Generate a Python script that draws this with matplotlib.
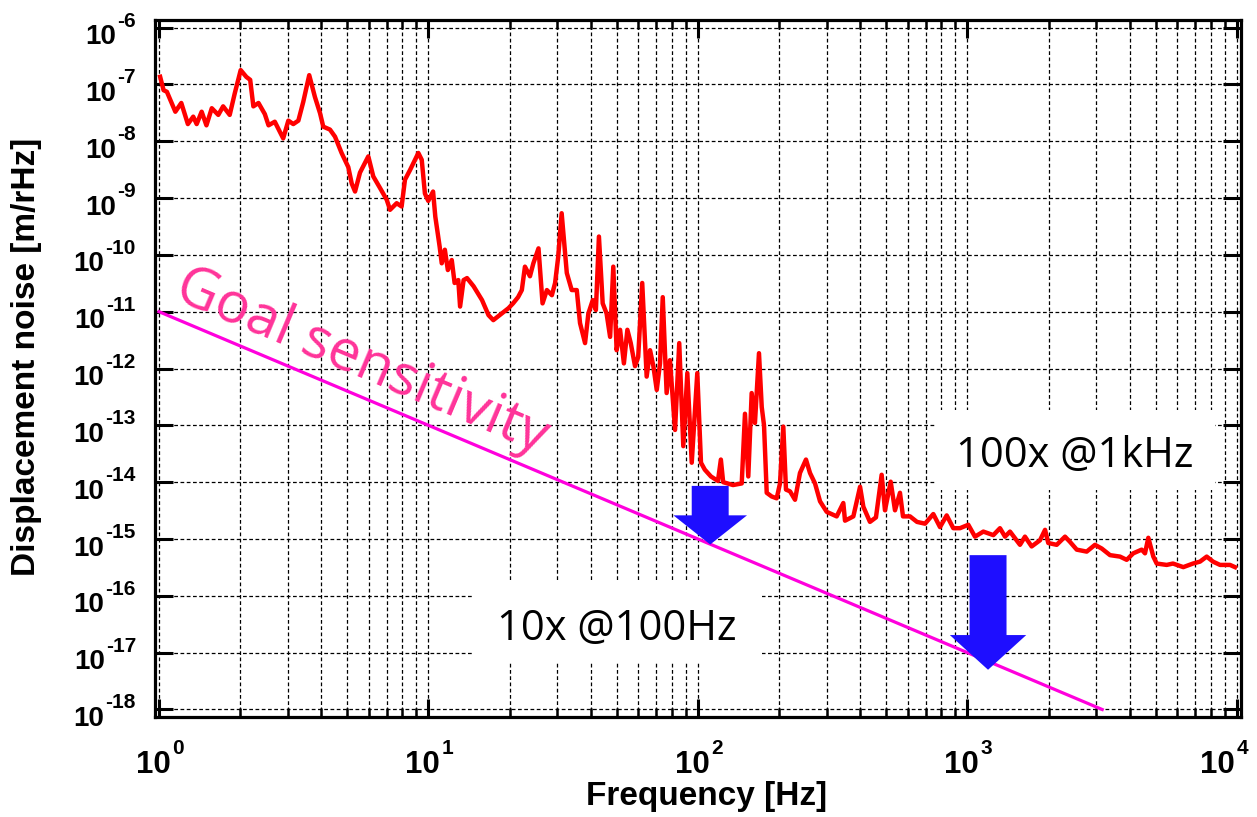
import numpy as np
import matplotlib
matplotlib.use('Agg')
import matplotlib.pyplot as plt
from matplotlib.ticker import FixedLocator, NullFormatter, NullLocator, LogLocator
from matplotlib.patches import Rectangle

# ---------------- data ----------------
freq_d1 = [1.01, 1.04, 1.07, 1.15, 1.21, 1.28, 1.34, 1.38, 1.44, 1.50, 1.57, 1.66, 1.73, 1.83,
           1.91, 2.01, 2.11, 2.18, 2.24, 2.34, 2.47, 2.55, 2.69, 2.89, 3.02, 3.15, 3.29, 3.43,
           3.61, 3.79, 3.96, 4.07, 4.31, 4.50, 4.76, 5.04, 5.19, 5.34, 5.57, 5.98, 6.24, 6.61,
           7.00, 7.20, 7.62, 7.95, 8.18, 8.54, 8.91, 9.17, 9.44, 9.70, 9.98]
noise_d1 = [1.36e-7, 7.9e-8, 7.4e-8, 3.3e-8, 4.7e-8, 2.0e-8, 2.7e-8, 2.0e-8, 3.3e-8, 1.9e-8,
            3.8e-8, 2.9e-8, 4.1e-8, 2.9e-8, 6.9e-8, 1.78e-7, 1.35e-7, 1.2e-7, 4.1e-8, 4.7e-8,
            3.0e-8, 1.9e-8, 2.2e-8, 1.12e-8, 2.3e-8, 2.0e-8, 2.3e-8, 4.9e-8, 1.45e-7, 6.0e-8,
            3.1e-8, 1.8e-8, 1.6e-8, 1.2e-8, 6.2e-9, 3.5e-9, 1.8e-9, 1.3e-9, 2.8e-9, 5.4e-9,
            2.4e-9, 1.5e-9, 9.3e-10, 6.2e-10, 8.1e-10, 7.1e-10, 2.1e-9, 3.1e-9, 4.7e-9, 6.2e-9,
            4.7e-9, 1.2e-9, 8.9e-10]

freq_d2 = [10.4, 10.6, 11.0, 11.2, 11.5, 11.8, 12.2, 12.5, 12.9, 13.1, 13.5, 13.9, 14.7, 15.8,
           16.7, 17.4, 18.7, 19.8, 20.6, 21.5, 22.2, 22.8, 23.8, 24.5, 25.6, 26.5, 27.5, 28.7,
           29.5, 30.3, 31.2, 32.6, 34.0, 35.5, 36.5, 38.1, 39.2, 40.7, 41.8, 42.9, 44.3, 45.8,
           47.2, 48.5, 49.9, 51.4, 53.1, 54.7, 56.3, 58.4, 60.0, 62.1, 64.5, 66.4, 68.3, 70.3,
           72.3, 74.0, 76.5, 78.7, 82.2, 85.2, 88.2, 91.3, 94.8, 99.4]
noise_d2 = [1.3e-9, 4.7e-10, 1.4e-10, 7.1e-11, 1.23e-10, 5.4e-11, 8.1e-11, 3.2e-11, 3.6e-11,
            1.23e-11, 3.6e-11, 3.9e-11, 2.8e-11, 1.6e-11, 8.7e-12, 7.1e-12, 9.3e-12, 1.15e-11,
            1.4e-11, 1.8e-11, 2.4e-11, 6.2e-11, 4.2e-11, 7.1e-11, 1.3e-10, 1.4e-11, 2.4e-11,
            1.95e-11, 3.2e-11, 9.3e-11, 5.4e-10, 4.8e-11, 2.4e-11, 2.4e-11, 6.3e-12, 2.8e-12,
            9.3e-12, 1.6e-11, 1.07e-11, 2.1e-10, 1.4e-11, 9.3e-12, 3.6e-12, 6.2e-11, 2.1e-12,
            4.8e-12, 1.23e-12, 4.8e-12, 2.8e-12, 1.1e-12, 1.6e-12, 3.2e-11, 7.2e-13, 2.1e-12,
            1.1e-12, 4.2e-13, 1.23e-12, 1.8e-11, 3.7e-13, 1.4e-12, 8.3e-14, 2.8e-12, 4.3e-14,
            8.3e-13, 2.2e-14, 8.3e-13]

freq_d3 = [102.6, 106, 111.7, 118.6, 121.6, 124, 134.9, 145.3, 149.4, 153.7, 158.2, 162.7,
           168.4, 172.4, 175.8, 179.9, 187.7, 195.9, 201.5, 207.3, 212.1, 219.5, 229.1, 239.0,
           251.6, 260.4, 271.8, 283.7, 300.4, 327.1, 346.1, 351.2, 377.1, 399.4, 410.8, 434.6,
           457.5, 480.3, 494.1, 518.8, 538.3, 561.7, 576.3, 611.9, 649.6, 695.8, 746.7, 790.7,
           837.2, 885.8, 938]
noise_d3 = [2.2e-14, 1.66e-14, 1.26e-14, 1.05e-14, 2.5e-14, 1.0e-14, 8.9e-15, 9.5e-15, 1.6e-13,
            1.26e-14, 3.7e-13, 1.1e-13, 1.86e-12, 2.1e-13, 1.0e-13, 6.5e-15, 5.6e-15, 5.2e-15,
            9.5e-15, 9.5e-14, 7.4e-15, 6.9e-15, 4.9e-15, 1.45e-14, 2.5e-14, 1.45e-14, 9.5e-15,
            4.6e-15, 3.0e-15, 2.5e-15, 4.3e-15, 2.1e-15, 2.5e-15, 8.3e-15, 3.7e-15, 2.0e-15,
            2.4e-15, 1.35e-14, 3.2e-15, 1.02e-14, 3.2e-15, 6.5e-15, 2.5e-15, 2.5e-15, 2.0e-15,
            1.86e-15, 2.75e-15, 1.62e-15, 2.6e-15, 1.55e-15, 1.55e-15]

freq_d4 = [1007, 1066, 1145, 1247, 1320, 1378, 1438, 1566, 1634, 1730, 1858, 1940, 1994, 2143,
           2301, 2401, 2543, 2769, 2972, 3148, 3380, 3681, 3897, 4123, 4430, 4557, 4688, 4893,
           5035, 5484, 5787, 6321, 6868, 7290, 7720, 8147, 8649, 9419, 9831]
noise_d4 = [1.78e-15, 1.1e-15, 1.35e-15, 1.17e-15, 1.55e-15, 1.1e-15, 1.35e-15, 7.9e-16,
            1.1e-15, 7.4e-16, 9.5e-16, 1.45e-15, 8.5e-16, 7.9e-16, 1.1e-15, 8.9e-16, 6.5e-16,
            6.0e-16, 7.9e-16, 6.8e-16, 5.2e-16, 4.9e-16, 4.3e-16, 5.6e-16, 6.5e-16, 5.6e-16,
            1.05e-15, 4.9e-16, 3.7e-16, 3.5e-16, 3.7e-16, 3.2e-16, 3.7e-16, 4.0e-16, 4.9e-16,
            4.0e-16, 3.5e-16, 3.5e-16, 3.2e-16]

goal_freq = [1.0, 3162.0]
goal_noise = [1e-11, 1e-18]

# arrows: (frequency, start value, end value)
arrow1 = (111.0, 8.6e-15, 8.0e-16)
arrow2 = (1192.0, 5.2e-16, 5.0e-18)

y_exponents = list(range(-18, -5))
x_exponents = [0, 1, 2, 3, 4]

freq = np.array(freq_d1 + freq_d2 + freq_d3 + freq_d4)
noise = np.array(noise_d1 + noise_d2 + noise_d3 + noise_d4)

# ---------------- style ----------------
plt.rcParams['font.family'] = ['Liberation Sans', 'DejaVu Sans']

fig = plt.figure(figsize=(12.57, 8.17), dpi=100)
ax = fig.add_axes([0.1233, 0.1224, 0.8640, 0.8531])
ax.set_xscale('log')
ax.set_yscale('log')
ax.set_xlim(10 ** -0.0148, 10 ** 4.015)
ax.set_ylim(10 ** -18.132, 10 ** -5.868)

ax.xaxis.set_major_locator(FixedLocator([10.0 ** e for e in x_exponents]))
ax.xaxis.set_minor_locator(LogLocator(base=10, subs=range(2, 10), numticks=100))
ax.yaxis.set_major_locator(FixedLocator([10.0 ** e for e in y_exponents]))
ax.yaxis.set_minor_locator(NullLocator())
ax.xaxis.set_major_formatter(NullFormatter())
ax.yaxis.set_major_formatter(NullFormatter())
ax.xaxis.set_minor_formatter(NullFormatter())

gridstyle = dict(color='black', linestyle=(0, (3, 2)), linewidth=0.9)
ax.grid(which='major', axis='both', **gridstyle)
ax.grid(which='minor', axis='x', **gridstyle)

for s in ax.spines.values():
    s.set_linewidth(2.3)
    s.set_color('black')

ax.tick_params(which='major', direction='in', length=13, width=2.2, top=True, right=True,
               color='black')
ax.tick_params(which='minor', direction='in', length=6.5, width=1.8, top=True)

# tick labels "10" with raised exponent (hyphen style, as in the reference)
for e in y_exponents:
    ex = ax.annotate('%d' % e, xy=(-0.0175, 10.0 ** e), xycoords=('axes fraction', 'data'),
                     xytext=(0, 1), textcoords='offset pixels', ha='right', va='baseline',
                     fontsize=15, fontweight='bold', annotation_clip=False)
    ax.annotate('10', xy=(0, 10.0 ** e), xycoords=(ex, 'data'),
                xytext=(-1, -16.5), textcoords='offset pixels', ha='right', va='baseline',
                fontsize=20, fontweight='bold', annotation_clip=False)

for e in x_exponents:
    dx = -20 if e == x_exponents[-1] else -6
    ten = ax.annotate('10', xy=(10.0 ** e, 0), xycoords=('data', 'axes fraction'),
                      xytext=(dx, -56), textcoords='offset pixels', ha='center', va='baseline',
                      fontsize=22.5, fontweight='bold', annotation_clip=False)
    ax.annotate('%d' % e, xy=(1, 0), xycoords=(ten, 'axes fraction'),
                xytext=(2, -37), textcoords='offset pixels', ha='left', va='baseline',
                fontsize=15, fontweight='bold', annotation_clip=False)

# white boxes behind the annotations
ax.add_patch(Rectangle((0.2928, 0.0789), 0.2661, 0.1148, transform=ax.transAxes,
                       facecolor='white', edgecolor='none', zorder=2))
ax.add_patch(Rectangle((0.7180, 0.3257), 0.2580, 0.1148, transform=ax.transAxes,
                       facecolor='white', edgecolor='none', zorder=2))

# curves
ax.plot(freq, noise, color='#ff0000', linewidth=3.2, zorder=3, solid_joinstyle='round')
ax.plot(goal_freq, goal_noise, color='#ff00dd', linewidth=2.3, zorder=3)

# arrows
for (fa, y0, y1), hw, hl in [(arrow1, 53, 21), (arrow2, 55, 25)]:
    ax.annotate('', xy=(fa, y1), xytext=(fa, y0),
                arrowprops=dict(arrowstyle='simple,head_length=%g,head_width=%g,tail_width=26.6' % (hl, hw),
                                mutation_scale=1, fc='#1e0eff', ec='none', lw=0,
                                shrinkA=0, shrinkB=0), zorder=4)

# texts
ax.text(0.1906, 0.5093, 'Goal sensitivity', transform=ax.transAxes, rotation=-22.9,
        rotation_mode='anchor', ha='center', va='center', fontsize=41,
        family=['Open Sans', 'DejaVu Sans'], color='#ff3399', zorder=4)
ax.text(0.8471, 0.3587, '100x @1kHz', transform=ax.transAxes, ha='center', va='baseline',
        fontsize=30, family=['Open Sans', 'DejaVu Sans'], color='black', zorder=4)
ax.text(0.4254, 0.1105, '10x @100Hz', transform=ax.transAxes, ha='center', va='baseline',
        fontsize=30, family=['Open Sans', 'DejaVu Sans'], color='black', zorder=4)

fig.text(707 / 1257, 1 - 797 / 817, 'Frequency [Hz]', ha='center', va='center',
         fontsize=24, fontweight='bold')
fig.text(27 / 1257, 1 - 357 / 817, 'Displacement noise [m/rHz]', ha='center', va='center',
         rotation=90, fontsize=24, fontweight='bold')

fig.savefig('out.png', dpi=100)
